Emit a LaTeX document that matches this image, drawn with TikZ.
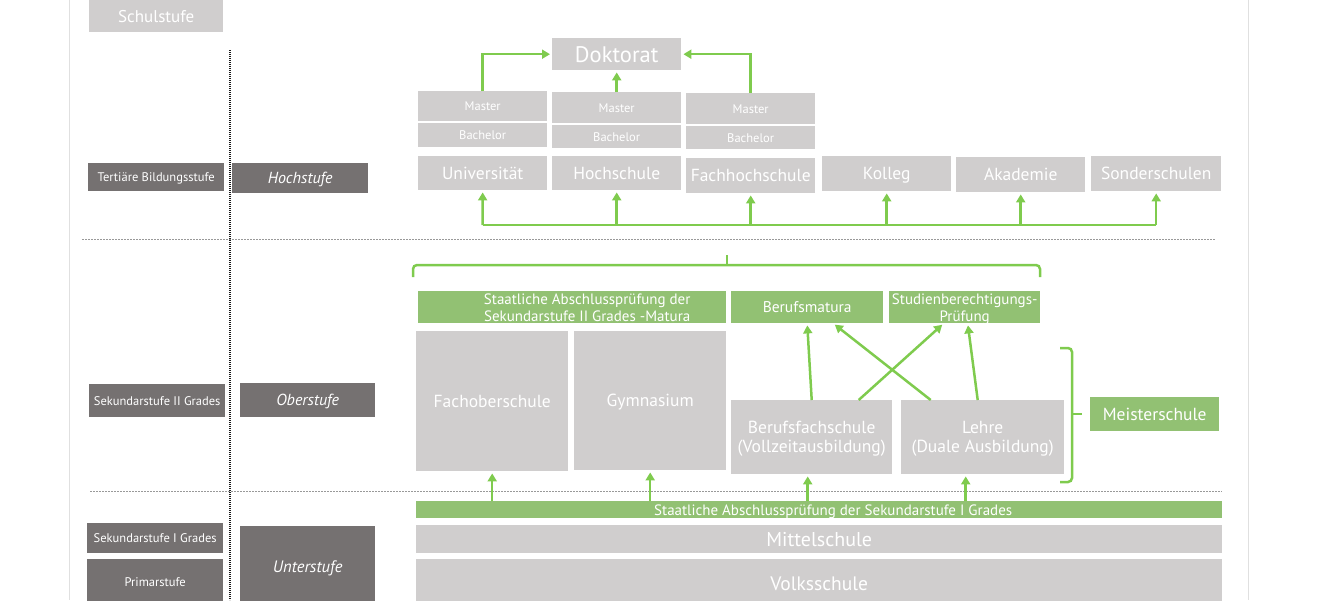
\documentclass[tikz,border=0pt]{standalone}
\usepackage{fontspec}
\setmainfont{PT Sans}
\usetikzlibrary{arrows.meta, calc}

\definecolor{boxgray}{HTML}{D0CECE}
\definecolor{darkgray}{HTML}{757171}
\definecolor{boxgreen}{HTML}{92C173}
\definecolor{linegreen}{HTML}{7FCB4E}

\tikzset{
  box/.style={anchor=north west, inner sep=0pt, text=white, align=center, text depth=0pt},
  lgbox/.style={box, fill=boxgray},
  dgbox/.style={box, fill=darkgray},
  grbox/.style={box, fill=boxgreen},
  gline/.style={linegreen, line width=2.5pt},
  garrow/.style={gline, -{Triangle[length=8pt, width=9pt]}, shorten >=2pt}
}

\begin{document}
\begin{tikzpicture}[x=1pt, y=-1pt]
            \useasboundingbox (0,0) rectangle (1320,600);

            % Draw the frame and the separators
            \draw[black!12, line width=1pt] (69.5,0) -- (69.5,600);
            \draw[black!12, line width=1pt] (1248,0) -- (1248,600);
            \draw[black!90, line width=2pt, dash pattern=on 1.2pt off 0.8pt] (230,50) -- (230,600);
            \draw[black!40, line width=0.8pt, dash pattern=on 2pt off 1pt] (82,239) -- (1215,239);
            \draw[black!40, line width=0.8pt, dash pattern=on 2pt off 1pt] (90,491) -- (1222,491);

            % Draw the left column
            \node[lgbox, minimum width=134, minimum height=32, font=\fontsize{17}{20}\selectfont] (schul) at (89,0) {Schulstufe};
            \node[dgbox, minimum width=136, minimum height=28, font=\fontsize{12.5}{15}\selectfont] (tert) at (88,163) {Tertiäre Bildungsstufe};
            \node[dgbox, minimum width=136, minimum height=30, font=\fontsize{16}{19}\selectfont\itshape] (hoch) at (232,163) {Hochstufe};
            \node[dgbox, minimum width=136, minimum height=33, font=\fontsize{12.5}{15}\selectfont] (sek2) at (89,384) {Sekundarstufe II Grades};
            \node[dgbox, minimum width=135, minimum height=34, font=\fontsize{16}{19}\selectfont\itshape] (ober) at (240,383) {Oberstufe};
            \node[dgbox, minimum width=136, minimum height=30, font=\fontsize{12.5}{15}\selectfont] (sek1) at (87,523) {Sekundarstufe I Grades};
            \node[dgbox, minimum width=136, minimum height=46, font=\fontsize{12.5}{15}\selectfont] (prim) at (87,559) {Primarstufe};
            \node[dgbox, minimum width=135, minimum height=80, font=\fontsize{16.5}{19}\selectfont\itshape] (unter) at (240,526) {Unterstufe};

            % Draw the tertiary level
            \node[lgbox, minimum width=129, minimum height=32, font=\fontsize{22.5}{26}\selectfont] (dok) at (552,38) {Doktorat};
            \node[lgbox, minimum width=129, minimum height=30, font=\fontsize{12.5}{15}\selectfont] (mast1) at (418,91) {Master};
            \node[lgbox, minimum width=129, minimum height=24, font=\fontsize{12.5}{15}\selectfont] (bach1) at (418,123) {Bachelor};
            \node[lgbox, minimum width=129, minimum height=31, font=\fontsize{12.5}{15}\selectfont] (mast2) at (552,92) {Master};
            \node[lgbox, minimum width=129, minimum height=23, font=\fontsize{12.5}{15}\selectfont] (bach2) at (552,125) {Bachelor};
            \node[lgbox, minimum width=129, minimum height=31, font=\fontsize{12.5}{15}\selectfont] (mast3) at (686,93) {Master};
            \node[lgbox, minimum width=129, minimum height=23, font=\fontsize{12.5}{15}\selectfont] (bach3) at (686,126) {Bachelor};

            \node[lgbox, minimum width=129, minimum height=34, font=\fontsize{17.5}{20}\selectfont] (uni) at (418,156) {Universität};
            \node[lgbox, minimum width=129, minimum height=34, font=\fontsize{17.5}{20}\selectfont] (hs) at (552,156) {Hochschule};
            \node[lgbox, minimum width=129, minimum height=35, font=\fontsize{17.5}{20}\selectfont] (fh) at (686,158) {Fachhochschule};
            \node[lgbox, minimum width=129, minimum height=35, font=\fontsize{17.5}{20}\selectfont] (kol) at (822,156) {Kolleg};
            \node[lgbox, minimum width=129, minimum height=35, font=\fontsize{17.5}{20}\selectfont] (aka) at (956,157) {Akademie};
            \node[lgbox, minimum width=130, minimum height=35, font=\fontsize{17.5}{20}\selectfont] (son) at (1091,156) {Sonderschulen};

            \draw[garrow] (mast1.north) |- (dok.west);
            \draw[garrow] (mast2.north) -- (dok.south);
            \draw[garrow] (mast3.north) |- (dok.east);

            \coordinate (busL) at (482.5,225);
            \coordinate (busR) at (1156,225);
            \draw[gline] (busL) -- (busR);
            \draw[garrow] (busL) -- (uni.south);
            \foreach \n in {hs, fh, kol, aka, son}
              \draw[garrow] (\n.south |- busL) -- (\n.south);

            % Draw the upper secondary level
            \draw[gline, rounded corners=4pt] (413,277) -- (413,265) -- (1040,265) -- (1040,277);
            \draw[gline] (727,265) -- (727,255);

            \node[grbox, minimum width=308, minimum height=32, font=\fontsize{15}{17}\selectfont] (mat2) at (418,291) {\hspace*{30pt}Staatliche Abschlussprüfung der\\\hspace*{30pt}Sekundarstufe II Grades -Matura};
            \node[grbox, minimum width=152, minimum height=32, font=\fontsize{15.5}{18}\selectfont] (bm) at (731,291) {Berufsmatura};
            \node[grbox, minimum width=151, minimum height=32, font=\fontsize{15}{17}\selectfont] (sbp) at (889,291) {Studienberechtigungs-\\Prüfung};

            \node[lgbox, minimum width=152, minimum height=140, font=\fontsize{17.5}{20}\selectfont] (fos) at (416,331) {Fachoberschule};
            \node[lgbox, minimum width=152, minimum height=139, font=\fontsize{17.5}{20}\selectfont] (gym) at (574,331) {Gymnasium};
            \node[lgbox, minimum width=161, minimum height=74, font=\fontsize{17.5}{19}\selectfont] (bfs) at (731,400) {Berufsfachschule\\(Vollzeitausbildung)};
            \node[lgbox, minimum width=163, minimum height=74, font=\fontsize{17.5}{19}\selectfont] (lehre) at (901,400) {Lehre\\(Duale Ausbildung)};
            \node[grbox, minimum width=129, minimum height=34, font=\fontsize{17.5}{20}\selectfont] (meis) at (1090,397) {Meisterschule};

            \draw[garrow] (bfs.north) -- (bm.south);
            \draw[garrow] ([xshift=47pt]bfs.north) -- ([xshift=-21pt]sbp.south);
            \draw[garrow] ([xshift=-52pt]lehre.north) -- ([xshift=26pt]bm.south);
            \draw[garrow] ([xshift=-5pt]lehre.north) -- ([xshift=3pt]sbp.south);

            \draw[gline, rounded corners=4pt] (1060,348) -- (1072,348) -- (1072,482) -- (1060,482);
            \draw[gline] (1072,414) -- (1082,414);

            % Draw the lower levels
            \node[grbox, minimum width=806, minimum height=17, font=\fontsize{15}{17}\selectfont] (mat1) at (416,501) {\hspace*{28pt}Staatliche Abschlussprüfung der Sekundarstufe I Grades};
            \node[lgbox, minimum width=806, minimum height=28, font=\fontsize{20}{23}\selectfont] (mit) at (416,525) {Mittelschule};
            \node[lgbox, minimum width=806, minimum height=48, font=\fontsize{19.5}{23}\selectfont] (volk) at (416,559) {Volksschule};

            \draw[garrow] (fos.south |- mat1.north) -- (fos.south);
            \draw[garrow] (gym.south |- mat1.north) -- (gym.south);
            \draw[garrow] ($(bfs.south |- mat1.north)+(-4,0)$) -- ($(bfs.south)+(-4,0)$);
            \draw[garrow] ($(lehre.south |- mat1.north)+(-17,0)$) -- ($(lehre.south)+(-17,0)$);

        \end{tikzpicture}
\end{document}
